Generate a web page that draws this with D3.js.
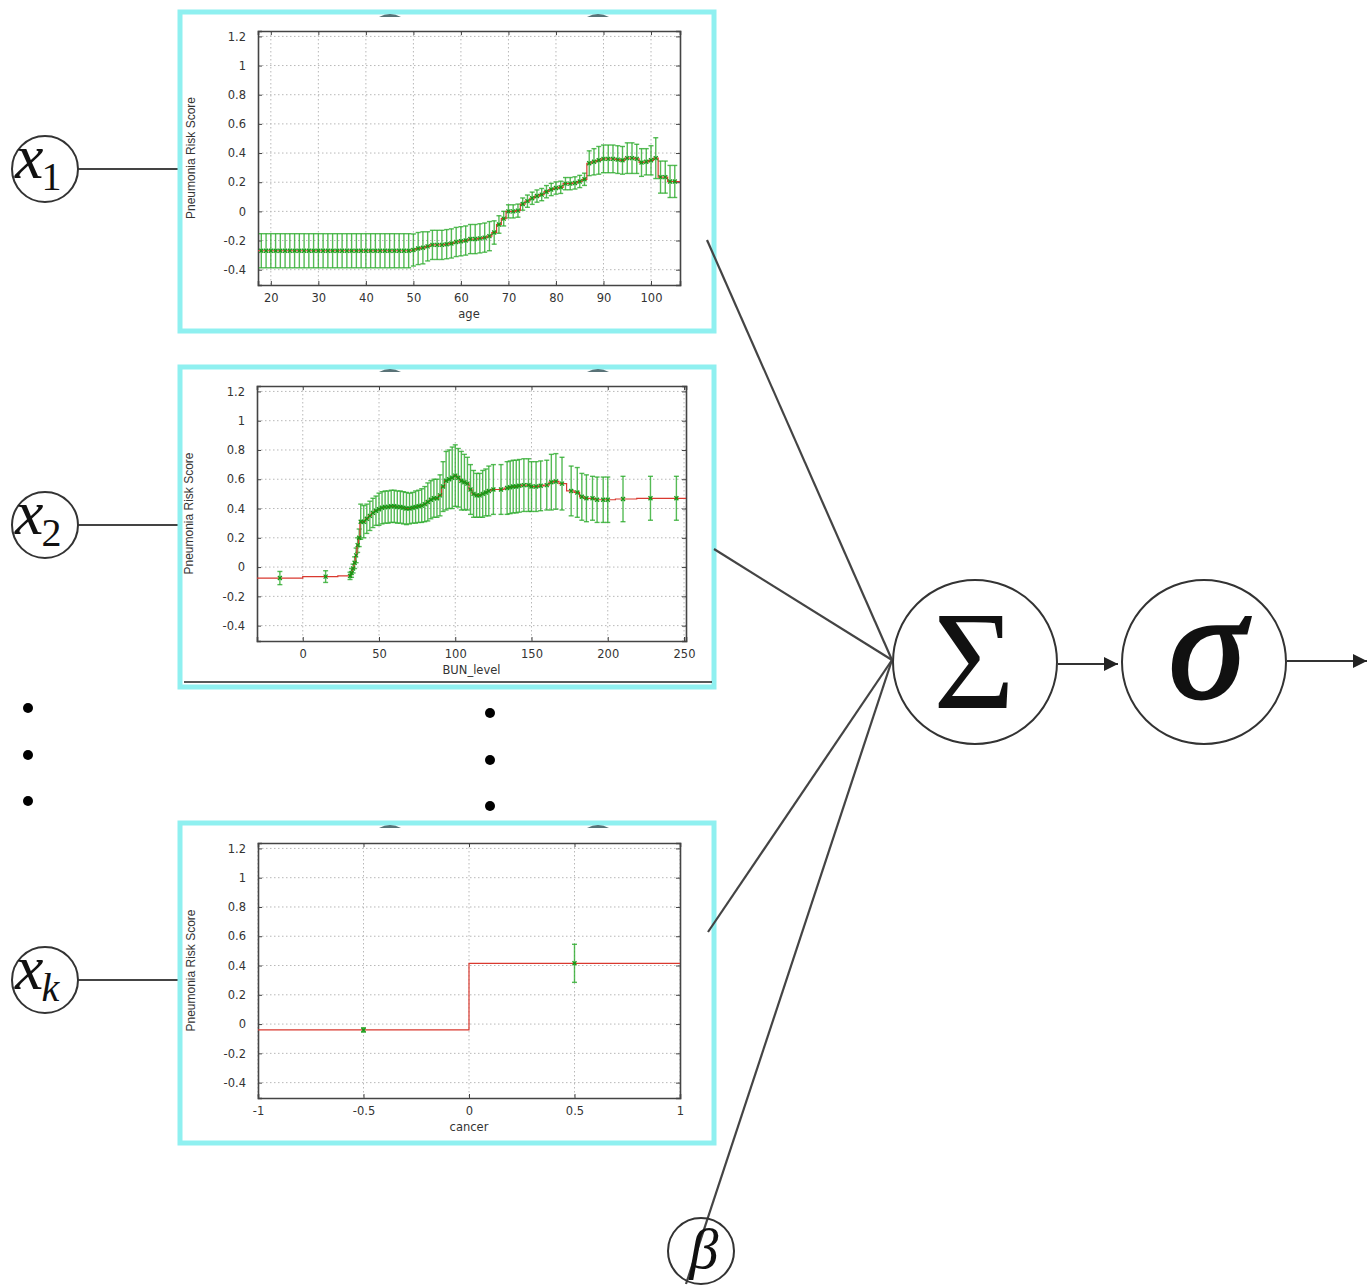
<!DOCTYPE html>
<html>
<head>
<meta charset="utf-8">
<script src="https://cdn.jsdelivr.net/npm/d3@7"></script>
<style>
  body { margin: 0; background: #fff; }
  svg text { font-family: "DejaVu Sans", sans-serif; }
</style>
</head>
<body>
<svg id="chart" width="1368" height="1286"></svg>
<script>
// ---- age shape function ----
const ageX = [18,19,20,21,22,23,24,25,26,27,28,29,30,31,32,33,34,35,36,37,38,39,40,41,42,43,44,45,46,47,48,49,
  50,51,52,53,54,55,56,57,58,59,60,61,62,63,64,65,66,67,68,69,70,71,72,73,74,75,76,77,78,79,80,81,82,83,84,85,86,
  87,88,89,90,91,92,93,94,95,96,97,98,99,100,101,102,103,104,105];
const ageRisk = [-0.27,-0.27,-0.27,-0.27,-0.27,-0.27,-0.27,-0.27,-0.27,-0.27,-0.27,-0.27,-0.27,-0.27,-0.27,-0.27,
  -0.27,-0.27,-0.27,-0.27,-0.27,-0.27,-0.27,-0.27,-0.27,-0.27,-0.27,-0.27,-0.27,-0.27,-0.27,-0.27,
  -0.265,-0.255,-0.25,-0.24,-0.23,-0.23,-0.23,-0.225,-0.22,-0.21,-0.205,-0.2,-0.19,-0.19,-0.185,-0.18,-0.17,
  -0.145,-0.09,-0.05,0.0,0.0,0.005,0.05,0.07,0.09,0.105,0.115,0.135,0.15,0.16,0.165,0.19,0.19,0.195,0.205,0.22,
  0.33,0.34,0.35,0.36,0.36,0.36,0.355,0.35,0.365,0.365,0.36,0.335,0.34,0.35,0.365,0.235,0.235,0.205,0.205];
const ageErr = [0.117,0.117,0.117,0.117,0.117,0.117,0.117,0.117,0.117,0.117,0.117,0.117,0.117,0.117,0.117,0.117,
  0.117,0.117,0.117,0.117,0.117,0.117,0.117,0.117,0.117,0.117,0.117,0.117,0.117,0.117,0.117,0.117,
  0.11,0.11,0.11,0.1,0.1,0.1,0.1,0.1,0.1,0.1,0.1,0.1,0.1,0.1,0.1,0.1,0.1,
  0.08,0.06,0.05,0.045,0.045,0.045,0.042,0.042,0.042,0.042,0.042,0.042,0.042,0.042,0.042,0.042,0.042,0.042,0.042,0.042,
  0.085,0.09,0.095,0.095,0.095,0.095,0.095,0.095,0.105,0.105,0.1,0.095,0.09,0.1,0.14,0.11,0.11,0.11,0.11];
const ageTicks = [20,30,40,50,60,70,80,90,100];

// ---- BUN_level shape function ----
const bunX = [-15,15,31,32,33,34,35,36,37,38,40,42,44,46,48,50,52,54,56,58,60,62,64,66,68,70,72,74,76,78,80,82,84,86,88,
  90,92,94,96,98,100,102,104,106,108,110,112,114,116,118,120,122,125,130,134,136,138,140,142,145,148,150,153,156,160,
  163,166,170,176,180,183,186,190,193,197,200,210,228,245];
const bunRisk = [-0.075,-0.065,-0.06,-0.04,-0.01,0.03,0.08,0.15,0.2,0.31,0.31,0.33,0.35,0.37,0.385,0.395,0.405,0.41,0.41,
  0.415,0.415,0.41,0.41,0.405,0.4,0.4,0.405,0.41,0.415,0.42,0.43,0.445,0.46,0.47,0.47,
  0.49,0.55,0.59,0.6,0.61,0.625,0.61,0.59,0.58,0.57,0.53,0.5,0.49,0.49,0.5,0.51,0.52,0.53,0.53,0.54,0.545,0.55,0.55,
  0.555,0.56,0.56,0.55,0.55,0.555,0.56,0.58,0.585,0.57,0.52,0.51,0.48,0.47,0.47,0.46,0.46,0.46,0.465,0.47,0.47];
const bunErr = [0.045,0.04,0.025,0.03,0.03,0.04,0.05,0.05,0.06,0.12,0.11,0.1,0.1,0.1,0.1,0.11,0.11,0.11,0.11,0.11,0.11,
  0.11,0.11,0.11,0.11,0.105,0.105,0.11,0.11,0.115,0.12,0.13,0.13,0.13,0.13,
  0.14,0.17,0.2,0.2,0.21,0.21,0.2,0.2,0.19,0.18,0.17,0.16,0.15,0.15,0.16,0.16,0.17,0.17,0.17,0.18,0.18,0.18,0.18,
  0.18,0.18,0.18,0.17,0.17,0.17,0.17,0.19,0.19,0.18,0.17,0.17,0.16,0.16,0.15,0.155,0.155,0.155,0.155,0.15,0.15];
const bunTicks = [0,50,100,150,200,250];

// ---- cancer shape function ----
const cancerX = [-0.5, 0.5];
const cancerRisk = [-0.04, 0.415];
const cancerErr = [0.015, 0.13];
const cancerTicks = [-1,-0.5,0,0.5,1];

const riskTicks = [-0.4,-0.2,0,0.2,0.4,0.6,0.8,1,1.2];
const riskDomain = [-0.505, 1.237];

const panels = [
  { box: [180, 12, 534, 319], plot: [258, 31, 680, 285], xDomain: [17.3, 106.1],
    xs: ageX, ys: ageRisk, errs: ageErr, xTicks: ageTicks, xLabel: "age", yLabelX: 195 },
  { box: [180, 367, 534, 320], plot: [257, 386, 686, 641], xDomain: [-30, 251.3],
    xs: bunX, ys: bunRisk, errs: bunErr, xTicks: bunTicks, xLabel: "BUN_level", yLabelX: 193, underline: 682 },
  { box: [180, 823, 534, 320], plot: [258, 843, 680, 1098], xDomain: [-1, 1],
    xs: cancerX, ys: cancerRisk, errs: cancerErr, xTicks: cancerTicks, xLabel: "cancer", yLabelX: 195 }
];

const svg = d3.select("#chart");

const defs = svg.append("defs");
defs.append("marker").attr("id", "arrow").attr("viewBox", "0 0 10 10")
  .attr("refX", 10).attr("refY", 5).attr("markerWidth", 20).attr("markerHeight", 14)
  .attr("markerUnits", "userSpaceOnUse").attr("orient", "auto")
  .append("path").attr("d", "M0,0 L10,5 L0,10 Z").attr("fill", "#222");

// ---- input nodes ----
const inputs = [
  { cy: 169, sub: "1", subItalic: false },
  { cy: 525, sub: "2", subItalic: false },
  { cy: 980, sub: "k", subItalic: true }
];
inputs.forEach(n => {
  svg.append("line").attr("x1", 78).attr("y1", n.cy).attr("x2", 184).attr("y2", n.cy)
    .attr("stroke", "#444").attr("stroke-width", 2.2);
  svg.append("circle").attr("cx", 45).attr("cy", n.cy).attr("r", 33)
    .attr("fill", "#fff").attr("stroke", "#333").attr("stroke-width", 2);
  const t = svg.append("text").attr("x", 15).attr("y", n.cy + 9)
    .style("font-family", "'Liberation Serif', serif").attr("fill", "#111");
  t.append("tspan").text("x").style("font-style", "italic").style("font-size", "64px");
  t.append("tspan").text(n.sub).attr("dx", -2).attr("dy", 12).style("font-size", "40px")
    .style("font-style", n.subItalic ? "italic" : "normal");
});

// ---- continuation dots ----
[[28, 708], [28, 755], [28, 801], [490, 713], [490, 760], [490, 806]].forEach(([x, y]) => {
  svg.append("circle").attr("cx", x).attr("cy", y).attr("r", 5).attr("fill", "#000");
});

// ---- panels ----
panels.forEach(p => {
  const [bx, by, bw, bh] = p.box;
  const g = svg.append("g");
  g.append("rect").attr("x", bx).attr("y", by).attr("width", bw).attr("height", bh)
    .attr("fill", "#fff").attr("stroke", "#8ff0f0").attr("stroke-width", 5);
  // bits of the underlying network peeking past the top frame
  [390, 598].forEach(ax => {
    g.append("path")
      .attr("d", `M${ax - 11},${by + 5} Q${ax},${by - 1} ${ax + 11},${by + 5} Z`)
      .attr("fill", "#2f4f55").attr("opacity", 0.8);
  });
  if (p.underline) {
    g.append("line").attr("x1", bx + 4).attr("x2", bx + bw - 2)
      .attr("y1", p.underline).attr("y2", p.underline).attr("stroke", "#222").attr("stroke-width", 1.5);
  }

  const [l, t, r, b] = p.plot;
  const x = d3.scaleLinear().domain(p.xDomain).range([l, r]);
  const y = d3.scaleLinear().domain(riskDomain).range([b, t]);

  // grid
  g.append("g").selectAll("line").data(p.xTicks).join("line")
    .attr("x1", d => x(d)).attr("x2", d => x(d)).attr("y1", t).attr("y2", b)
    .attr("stroke", "#b8b8b8").attr("stroke-width", 1).attr("stroke-dasharray", "1.5,2.5");
  g.append("g").selectAll("line").data(riskTicks).join("line")
    .attr("x1", l).attr("x2", r).attr("y1", d => y(d)).attr("y2", d => y(d))
    .attr("stroke", "#b8b8b8").attr("stroke-width", 1).attr("stroke-dasharray", "1.5,2.5");

  // axes (ticks drawn inward on all four sides)
  const fmt = v => String(+v.toFixed(2));
  const axB = g.append("g").attr("transform", `translate(0,${b})`)
    .call(d3.axisBottom(x).tickValues(p.xTicks).tickSize(-4).tickPadding(9).tickFormat(fmt));
  const axT = g.append("g").attr("transform", `translate(0,${t})`)
    .call(d3.axisTop(x).tickValues(p.xTicks).tickSize(-4).tickFormat(""));
  const axL = g.append("g").attr("transform", `translate(${l},0)`)
    .call(d3.axisLeft(y).tickValues(riskTicks).tickSize(-4).tickPadding(12).tickFormat(fmt));
  const axR = g.append("g").attr("transform", `translate(${r},0)`)
    .call(d3.axisRight(y).tickValues(riskTicks).tickSize(-4).tickFormat(""));
  [axB, axT, axL, axR].forEach(a => {
    a.select(".domain").attr("stroke", "#444").attr("stroke-width", 1.6);
    a.selectAll(".tick line").attr("stroke", "#444");
    a.selectAll("text").attr("fill", "#333").style("font-size", "11.5px")
      .style("font-family", "'DejaVu Sans', sans-serif");
  });

  // labels
  g.append("text").attr("x", (l + r) / 2).attr("y", b + 33).attr("text-anchor", "middle")
    .attr("fill", "#333").style("font-size", "11.5px").text(p.xLabel);
  g.append("text").attr("transform", `translate(${p.yLabelX},${(t + b) / 2}) rotate(-90)`)
    .attr("text-anchor", "middle").attr("fill", "#333")
    .style("font-family", "'Liberation Sans', Arial, sans-serif").style("font-size", "12px")
    .text("Pneumonia Risk Score");

  const pts = p.xs.map((xv, i) => ({ x: xv, y: p.ys[i], e: p.errs[i] }));

  // error bars
  const eb = g.append("g").attr("stroke", "#2aaa2a").attr("stroke-opacity", 0.8).attr("stroke-width", 1.4);
  pts.forEach(d => {
    const xp = x(d.x), y0 = y(d.y - d.e), y1 = y(d.y + d.e);
    eb.append("line").attr("x1", xp).attr("x2", xp).attr("y1", y0).attr("y2", y1);
    eb.append("line").attr("x1", xp - 2.5).attr("x2", xp + 2.5).attr("y1", y0).attr("y2", y0);
    eb.append("line").attr("x1", xp - 2.5).attr("x2", xp + 2.5).attr("y1", y1).attr("y2", y1);
  });

  // step line, extended to the plot edges
  const stepPts = [{ x: p.xDomain[0], y: pts[0].y }, ...pts, { x: p.xDomain[1], y: pts[pts.length - 1].y }];
  g.append("path").datum(stepPts)
    .attr("d", d3.line().x(d => x(d.x)).y(d => y(d.y)).curve(d3.curveStep))
    .attr("fill", "none").attr("stroke", "#d9392f").attr("stroke-width", 1.2);

  // point markers
  const mk = g.append("g").attr("stroke", "#159915").attr("stroke-width", 1.3);
  pts.forEach(d => {
    const xp = x(d.x), yp = y(d.y);
    mk.append("path").attr("d", `M${xp - 2},${yp - 2}L${xp + 2},${yp + 2}M${xp - 2},${yp + 2}L${xp + 2},${yp - 2}`);
  });
});

// ---- edges into the summation node ----
const hub = [892, 660];
[[707, 240], [714, 549], [708, 932], [686, 1284]].forEach(([x, y]) => {
  svg.append("line").attr("x1", x).attr("y1", y).attr("x2", hub[0]).attr("y2", hub[1])
    .attr("stroke", "#444").attr("stroke-width", 2.2);
});

// ---- summation and sigmoid nodes ----
const sumC = [975, 662], sigC = [1204, 662], R = 82;
svg.append("circle").attr("cx", sumC[0]).attr("cy", sumC[1]).attr("r", R)
  .attr("fill", "none").attr("stroke", "#333").attr("stroke-width", 2);
svg.append("circle").attr("cx", sigC[0]).attr("cy", sigC[1]).attr("r", R)
  .attr("fill", "none").attr("stroke", "#333").attr("stroke-width", 2);
svg.append("text").attr("x", sumC[0] - 1).attr("y", 708).attr("text-anchor", "middle")
  .style("font-family", "'Liberation Serif', serif").style("font-size", "140px").attr("fill", "#111").text("Σ");
svg.append("text").attr("x", sigC[0] + 3).attr("y", 697).attr("text-anchor", "middle")
  .style("font-family", "'Liberation Serif', serif").style("font-style", "italic")
  .style("font-size", "155px").attr("fill", "#111")
  .attr("stroke", "#111").attr("stroke-width", 3).text("σ");

svg.append("line").attr("x1", sumC[0] + R + 1).attr("y1", 664).attr("x2", 1118).attr("y2", 664)
  .attr("stroke", "#333").attr("stroke-width", 2).attr("marker-end", "url(#arrow)");
svg.append("line").attr("x1", sigC[0] + R + 1).attr("y1", 661).attr("x2", 1367).attr("y2", 661)
  .attr("stroke", "#333").attr("stroke-width", 2).attr("marker-end", "url(#arrow)");

// ---- bias node ----
svg.append("circle").attr("cx", 701).attr("cy", 1251).attr("r", 33)
  .attr("fill", "none").attr("stroke", "#333").attr("stroke-width", 2);
svg.append("text").attr("x", 704).attr("y", 1268).attr("text-anchor", "middle")
  .style("font-family", "'Liberation Serif', serif").style("font-style", "italic")
  .style("font-size", "58px").attr("fill", "#111").text("β");
</script>
</body>
</html>
